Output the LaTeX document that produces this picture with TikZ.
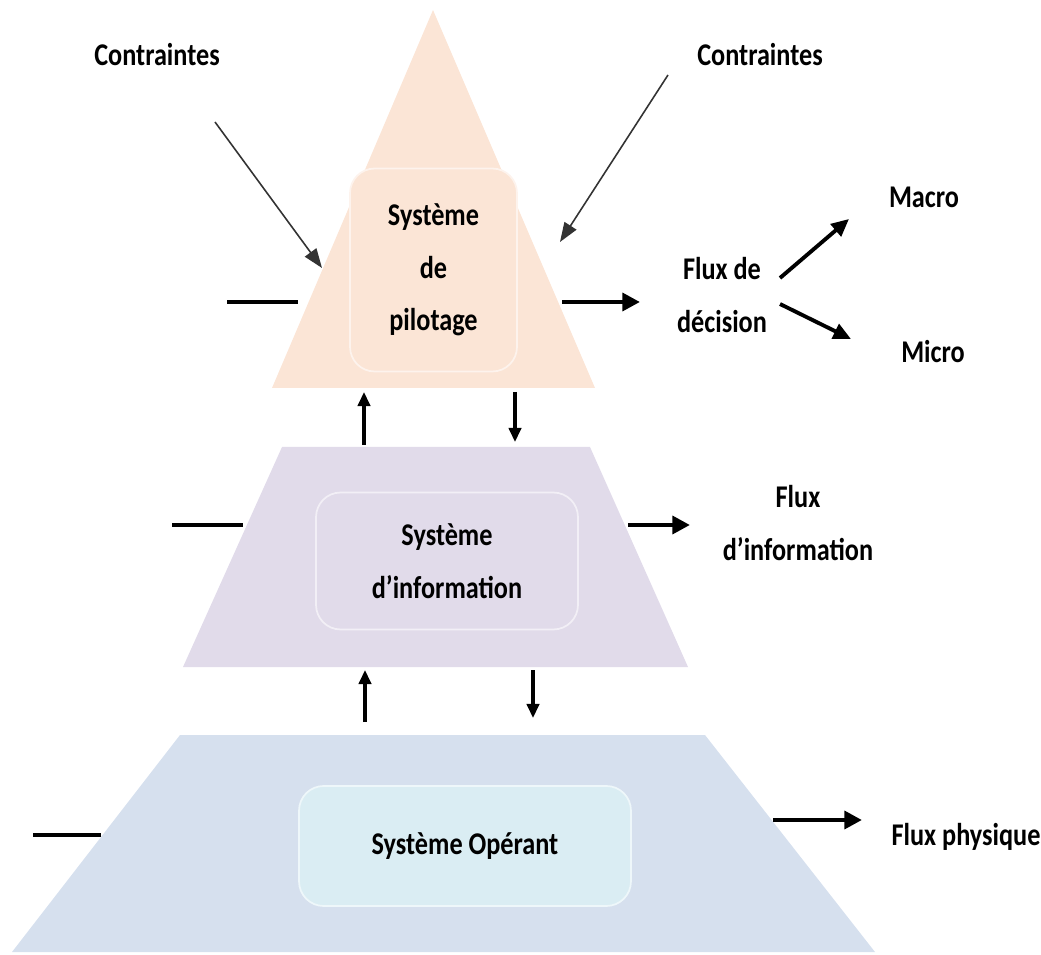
\documentclass[tikz,border=0pt]{standalone}
\usepackage{fontspec}
\setmainfont{Carlito}[FakeStretch=0.83]
\usetikzlibrary{arrows.meta,positioning}

\definecolor{pilotfill}{HTML}{FBE5D6}
\definecolor{infofill}{HTML}{E1DBEA}
\definecolor{operfill}{HTML}{D6E0EE}
\definecolor{operbox}{HTML}{DAEDF3}

\begin{document}
\begin{tikzpicture}[x=0.02cm,y=-0.02cm,
    lbl/.style={font=\fontsize{18}{30}\selectfont\bfseries, inner sep=0pt},
    sysbox/.style={draw=white!55!#1, line width=1pt, fill=#1, rounded corners=14pt, inner sep=0pt, align=center, font=\fontsize{18}{30}\selectfont\bfseries},
    flow/.style={line width=2.8pt},
    flowarrow/.style={line width=2.8pt, -{Triangle[length=10pt,width=10pt]}},
    branch/.style={line width=2.2pt, -{Triangle[length=10pt,width=9pt]}},
    updown/.style={line width=1.8pt, -{Triangle[length=8pt,width=7pt]}},
    constraint/.style={line width=0.9pt, draw=black!80, -{Triangle[length=11pt,width=8pt]}}]
    \useasboundingbox (0,0) rectangle (1041,955);

    % pyramide
    \coordinate (T) at (433,10);
    \coordinate (TL) at (272,388);
    \coordinate (TR) at (595,388);
    \fill[pilotfill] (T)--(TL)--(TR)--cycle;

    \coordinate (ML) at (282,447);
    \coordinate (MR) at (590,447);
    \coordinate (MR') at (688,667);
    \coordinate (ML') at (183,667);
    \fill[infofill] (ML)--(MR)--(MR')--(ML')--cycle;

    \coordinate (BL) at (180,735);
    \coordinate (BR) at (705,735);
    \coordinate (BR') at (875,952);
    \coordinate (BL') at (12,952);
    \fill[operfill] (BL)--(BR)--(BR')--(BL')--cycle;

    % sous-systemes
    \node[sysbox=pilotfill, minimum width=3.34cm, minimum height=4.06cm] (pilot) at (433.5,270) {Système\\de\\pilotage};
    \node[sysbox=infofill, minimum width=5.24cm, minimum height=2.74cm] (info) at (447,561) {Système\\d’information};
    \node[sysbox=operbox, minimum width=6.64cm, minimum height=2.4cm] (oper) at (465,846) {Système Opérant};

    % contraintes
    \node[lbl] (cl) at (157,55) {Contraintes};
    \node[lbl] (cr) at (760,55) {Contraintes};
    \coordinate (cl1) at (215,122);
    \coordinate (cl2) at (322,268);
    \coordinate (cr1) at (668,75);
    \coordinate (cr2) at (560,242);
    \draw[constraint] (cl1)--(cl2);
    \draw[constraint] (cr1)--(cr2);

    % flux de decision
    \coordinate (pl1) at (227,302);
    \coordinate (pl2) at (298,302);
    \coordinate (pr1) at (562,302);
    \coordinate (pr2) at (640,302);
    \draw[flow] (pl1)--(pl2);
    \draw[flowarrow] (pr1)--(pr2);

    \node[lbl, align=center] (dec) at (722,295) {Flux de\\décision};
    \node[lbl] (macro) at (924,197) {Macro};
    \node[lbl] (micro) at (933,352) {Micro};
    \coordinate (d1) at (780,278);
    \coordinate (d2) at (849,219);
    \coordinate (d3) at (780,304);
    \coordinate (d4) at (851,339);
    \draw[branch] (d1)--(d2);
    \draw[branch] (d3)--(d4);

    % liaisons pilotage / information
    \coordinate (u1) at (364,445);
    \coordinate (u2) at (364,392);
    \coordinate (v1) at (515,392);
    \coordinate (v2) at (515,442);
    \draw[updown] (u1)--(u2);
    \draw[updown] (v1)--(v2);

    % flux d'information
    \coordinate (il1) at (172,525);
    \coordinate (il2) at (243,525);
    \coordinate (ir1) at (628,525);
    \coordinate (ir2) at (690,525);
    \draw[flow] (il1)--(il2);
    \draw[flowarrow] (ir1)--(ir2);
    \node[lbl, align=center] (finfo) at (798,523) {Flux\\d’information};

    % liaisons information / operant
    \coordinate (u3) at (365,722);
    \coordinate (u4) at (365,670);
    \coordinate (v3) at (533,670);
    \coordinate (v4) at (533,718);
    \draw[updown] (u3)--(u4);
    \draw[updown] (v3)--(v4);

    % flux physique
    \coordinate (ol1) at (33,835);
    \coordinate (ol2) at (101,835);
    \coordinate (or1) at (773,820);
    \coordinate (or2) at (862,820);
    \draw[flow] (ol1)--(ol2);
    \draw[flowarrow] (or1)--(or2);
    \node[lbl] (fphys) at (966,837) {Flux physique};
\end{tikzpicture}
\end{document}
